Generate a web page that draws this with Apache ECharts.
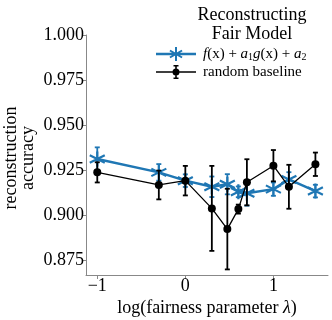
<!DOCTYPE html>
<html>
<head>
<meta charset="utf-8">
<script src="https://cdn.jsdelivr.net/npm/echarts@6/dist/echarts.min.js"></script>
<style>
html, body { margin: 0; padding: 0; background: #fff; }
#chart { width: 332px; height: 320px; }
</style>
</head>
<body>
<div id="chart"></div>
<script>
// data
var logLambda = [-1, -0.301, 0, 0.301, 0.477, 0.602, 0.699, 1, 1.176, 1.477];
var fairAcc = [0.9311, 0.9237, 0.9191, 0.9157, 0.9171, 0.9129, 0.9121, 0.9144, 0.9198, 0.9133];
var fairErr = [0.0065, 0.0046, 0.0035, 0.0057, 0.0056, 0.0030, 0.0069, 0.0037, 0.0040, 0.0035];
var baseAcc = [0.9237, 0.9167, 0.9191, 0.9037, 0.8922, 0.9033, 0.9182, 0.9274, 0.9157, 0.9282];
var baseErr = [0.0056, 0.0080, 0.0082, 0.0236, 0.0224, 0.0025, 0.0128, 0.0087, 0.0122, 0.0065];
var xTicks = [-1, 0, 1];
var yTicks = [0.875, 0.900, 0.925, 0.950, 0.975, 1.000];

var serif = 'Liberation Serif';
var blue = '#1f77b4';
var star = 'path://M0,-10L0,10M-8.66,-5L8.66,5M-8.66,5L8.66,-5';

// legend icons: line + marker + error bar, 40x16 box
var fairIcon = 'path://M0,6.75h40v2.5h-40Z' +
    'M19,1h2v14h-2Z' +
    'M14.44,3.634L26.56,10.634L25.56,12.366L13.44,5.366Z' +
    'M13.44,10.634L25.56,3.634L26.56,5.366L14.44,12.366Z';
var baseIcon = 'path://M0,7.35h40v1.3h-40Z' +
    'M19.2,1.5h1.6v13h-1.6Z' +
    'M17.5,1h5v1.5h-5Z' +
    'M17.5,13.5h5v1.5h-5Z' +
    'M23.5,8A3.5,3.5,0,1,1,16.5,8A3.5,3.5,0,1,1,23.5,8Z';

function pairs(ys) {
    return logLambda.map(function (x, i) { return [x, ys[i]]; });
}

// vertical error bars with caps
function errorBars(name, acc, err, color, z) {
    var data = logLambda.map(function (x, i) {
        return [x, acc[i] - err[i], acc[i] + err[i]];
    });
    return {
        type: 'custom',
        name: name,
        silent: true,
        z: z,
        encode: { x: 0, y: [1, 2] },
        data: data,
        renderItem: function (params, api) {
            var lo = api.coord([api.value(0), api.value(1)]);
            var hi = api.coord([api.value(0), api.value(2)]);
            var w = 2.5;
            var st = { stroke: color, lineWidth: 1.8, fill: null };
            return {
                type: 'group',
                children: [
                    { type: 'line', shape: { x1: lo[0], y1: lo[1], x2: hi[0], y2: hi[1] }, style: st },
                    { type: 'line', shape: { x1: lo[0] - w, y1: lo[1], x2: lo[0] + w, y2: lo[1] }, style: st },
                    { type: 'line', shape: { x1: hi[0] - w, y1: hi[1], x2: hi[0] + w, y2: hi[1] }, style: st }
                ]
            };
        }
    };
}

var chart = echarts.init(document.getElementById('chart'));

var option = {
    animation: false,
    backgroundColor: '#fff',
    title: {
        text: 'Reconstructing\nFair Model',
        left: 247,
        top: 1,
        textAlign: 'center',
        textStyle: { fontFamily: serif, fontSize: 18, fontWeight: 'normal', color: '#000', lineHeight: 19 }
    },
    legend: {
        orient: 'vertical',
        left: 151,
        top: 41,
        itemWidth: 40,
        itemHeight: 16,
        itemGap: 2,
        data: [
            { name: 'fair', icon: fairIcon },
            { name: 'baseline', icon: baseIcon }
        ],
        itemStyle: { borderWidth: 0 },
        formatter: function (name) {
            if (name === 'fair') {
                return '{i|f}(x) + {i|a}{s|1}{i|g}(x) + {i|a}{s|2}';
            }
            return 'random baseline';
        },
        textStyle: {
            fontFamily: serif,
            fontSize: 15,
            color: '#000',
            lineHeight: 16,
            padding: [0, 0, 0, 2],
            rich: {
                i: { fontFamily: serif, fontSize: 15, fontStyle: 'italic', lineHeight: 16 },
                s: { fontFamily: serif, fontSize: 10, lineHeight: 8, verticalAlign: 'bottom' }
            }
        }
    },
    grid: {
        left: 86,
        right: 4,
        top: 35,
        bottom: 45,
        containLabel: false,
        outerBoundsMode: 'none'
    },
    xAxis: {
        type: 'value',
        min: -1.128,
        max: 1.62,
        splitLine: { show: false },
        axisLine: { onZero: false, lineStyle: { color: '#888', width: 1 } },
        axisTick: { customValues: xTicks, length: 4, lineStyle: { color: '#888' } },
        axisLabel: {
            customValues: xTicks,
            margin: 2,
            fontFamily: serif,
            fontSize: 18,
            color: '#000',
            formatter: function (v) { return String(v).replace('-', '\u2212'); }
        },
        name: 'log(fairness parameter {i|λ})',
        nameLocation: 'middle',
        nameGap: 24,
        nameMoveOverlap: false,
        nameTextStyle: {
            fontFamily: serif, fontSize: 18, color: '#000',
            rich: { i: { fontFamily: serif, fontSize: 18, fontStyle: 'italic' } }
        }
    },
    yAxis: {
        type: 'value',
        min: 0.8667,
        max: 1.0,
        splitLine: { show: false },
        axisLine: { show: true, onZero: false, lineStyle: { color: '#888', width: 1 } },
        axisTick: { show: true, customValues: yTicks, length: 4, lineStyle: { color: '#888' } },
        axisLabel: {
            customValues: yTicks,
            margin: 2,
            fontFamily: serif,
            fontSize: 18,
            color: '#000',
            formatter: function (v) { return v.toFixed(3); }
        },
        name: 'reconstruction\naccuracy',
        nameLocation: 'middle',
        nameGap: 49,
        nameRotate: 90,
        nameMoveOverlap: false,
        nameTextStyle: { fontFamily: serif, fontSize: 18, color: '#000', lineHeight: 17, padding: [0, 6, 0, 0] }
    },
    series: [
        errorBars('fairErr', fairAcc, fairErr, blue, 2),
        {
            name: 'fair',
            type: 'line',
            z: 2,
            data: pairs(fairAcc),
            symbol: star,
            symbolSize: 15,
            lineStyle: { color: blue, width: 2.5 },
            itemStyle: { color: blue, borderColor: blue, borderWidth: 2.2 }
        },
        errorBars('baseErr', baseAcc, baseErr, '#000', 3),
        {
            name: 'baseline',
            type: 'line',
            z: 3,
            data: pairs(baseAcc),
            symbol: 'circle',
            symbolSize: 8,
            lineStyle: { color: '#000', width: 1.3 },
            itemStyle: { color: '#000', borderWidth: 0 }
        }
    ]
};

chart.setOption(option);
</script>
</body>
</html>
